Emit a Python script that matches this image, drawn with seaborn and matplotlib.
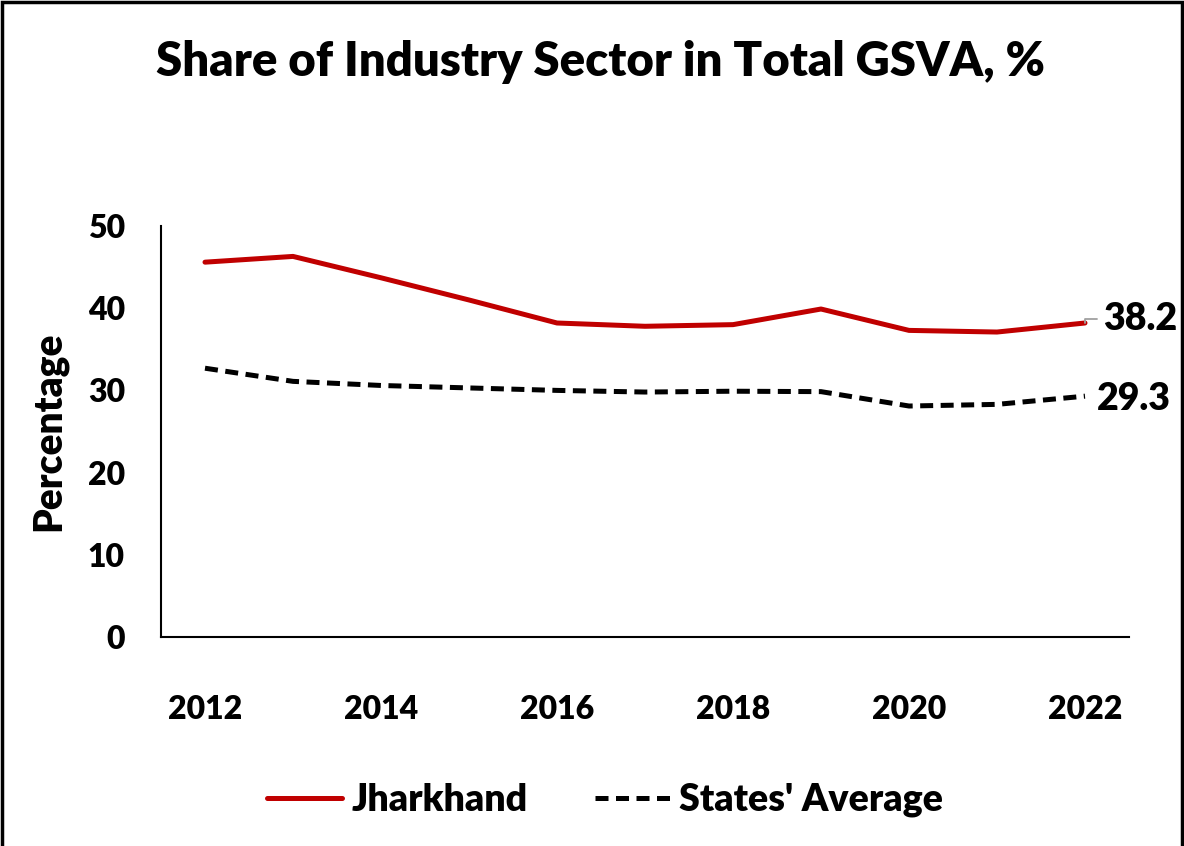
import matplotlib
matplotlib.use("Agg")
import matplotlib.pyplot as plt
import pandas as pd
import seaborn as sns
from matplotlib.patches import Rectangle

# --- data --------------------------------------------------------------------
years = [2012, 2013, 2014, 2015, 2016, 2017, 2018, 2019, 2020, 2021, 2022]
jharkhand = [45.6, 46.3, 43.7, 41.0, 38.2, 37.8, 38.0, 39.9, 37.3, 37.1, 38.2]
states_avg = [32.7, 31.1, 30.6, 30.3, 30.0, 29.8, 29.9, 29.85, 28.1, 28.3, 29.3]
series_names = ["Jharkhand", "States' Average"]
year_ticks = [2012, 2014, 2016, 2018, 2020, 2022]
y_ticks = [0, 10, 20, 30, 40, 50]

sns.set_theme(style="white")
plt.rcParams["font.family"] = ["Lato", "DejaVu Sans"]
plt.rcParams["font.weight"] = "heavy"
for key in ["text.color", "axes.labelcolor", "xtick.color", "ytick.color"]:
    plt.rcParams[key] = "black"

df = pd.DataFrame({
    "year": years * 2,
    "value": jharkhand + states_avg,
    "series": [series_names[0]] * len(years) + [series_names[1]] * len(years),
})

fig = plt.figure(figsize=(11.84, 8.46), dpi=100)
ax = fig.add_axes([161 / 1184, 1 - 637 / 846, (1129 - 161) / 1184, (637 - 226) / 846])

sns.lineplot(data=df[df["series"] == series_names[0]], x="year", y="value",
             color="#C00000", linewidth=3.6, ax=ax, label=series_names[0])
sns.lineplot(data=df[df["series"] == series_names[1]], x="year", y="value",
             color="black", linewidth=3.6, ax=ax, label=series_names[1],
             dashes=False, linestyle=(0, (2.6, 1.5)))

ax.set_xlim(2011.5, 2022.5)
ax.set_ylim(0, 50)
ax.set_xticks(year_ticks)
ax.set_yticks(y_ticks)
ax.tick_params(axis="x", labelsize=23, pad=42, length=0)
ax.tick_params(axis="y", labelsize=23, pad=26, length=0)
for lab in ax.get_xticklabels() + ax.get_yticklabels():
    lab.set_fontweight("heavy")
ax.set_xlabel("")
ax.set_ylabel("Percentage", fontsize=28, fontweight="heavy")
ax.yaxis.set_label_coords(-0.097, 0.5)

for side in ["top", "right"]:
    ax.spines[side].set_visible(False)
for side in ["left", "bottom"]:
    ax.spines[side].set_color("black")
    ax.spines[side].set_linewidth(1.5)

# end-of-line value labels
ax.annotate(f"{jharkhand[-1]:.1f}", xy=(years[-1], jharkhand[-1]),
            xytext=(years[-1] + 0.2, jharkhand[-1] + 0.5), fontsize=27,
            fontweight="heavy", va="center", ha="left",
            arrowprops=dict(arrowstyle="-", color="#A0A0A0", lw=1.3,
                            connectionstyle="angle,angleA=0,angleB=90,rad=0",
                            shrinkA=2, shrinkB=0))
ax.text(years[-1] + 0.13, states_avg[-1] - 0.4, f"{states_avg[-1]:.1f}",
        fontsize=27, fontweight="heavy", va="center", ha="left")

leg = ax.legend(loc="center", bbox_to_anchor=((605 - 161) / 968, -(800 - 637) / 411),
                ncol=2, frameon=False, fontsize=27, handlelength=2.0,
                columnspacing=1.8, handletextpad=0.25)
for t in leg.get_texts():
    t.set_fontweight("heavy")

fig.text(600 / 1184, 1 - 62 / 846, "Share of Industry Sector in Total GSVA, %",
         fontsize=34, fontweight="heavy", ha="center", va="center")

fig.patches.append(Rectangle((0.002, -0.01), 0.996, 1.0075, transform=fig.transFigure,
                             fill=False, edgecolor="black", linewidth=2.5))

fig.savefig("out.png", dpi=100)
